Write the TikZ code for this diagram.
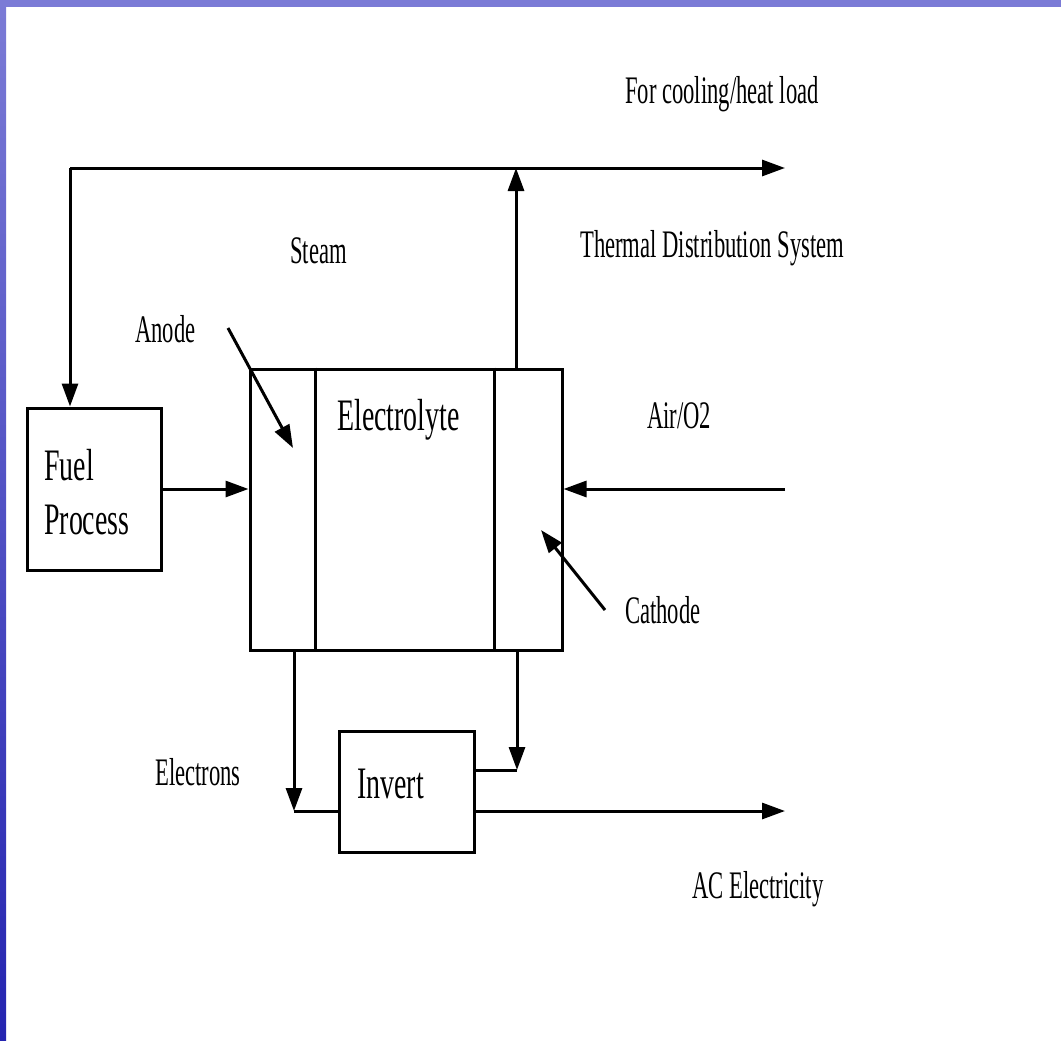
\documentclass[tikz,border=0pt]{standalone}
\usepackage{fontspec}
\newfontfamily\dfont[FakeStretch=0.62]{Liberation Serif}
\newfontfamily\lfont[FakeStretch=0.58]{Liberation Serif}
\usetikzlibrary{arrows.meta}
\definecolor{bordtop}{HTML}{7B7BD6}
\definecolor{bordbot}{HTML}{2424B0}
\tikzset{
  ln/.style={line width=3pt, draw=black},
  arr/.style={ln, -{Triangle[length=23pt,width=16pt]}},
  boxn/.style={ln, rectangle, inner sep=0pt},
  lbl/.style={anchor=base west, inner sep=0pt, font=\lfont\fontsize{39}{39}\selectfont},
  blbl/.style={anchor=base west, inner sep=0pt, font=\dfont\fontsize{45}{45}\selectfont},
}
\begin{document}
\begin{tikzpicture}[x=1pt,y=-1pt]
\useasboundingbox (0,0) rectangle (1061,1041);
\fill[white] (0,0) rectangle (1061,1041);
% blue slide border
\shade[top color=bordtop, bottom color=bordbot] (0,0) rectangle (6,1041);
\fill[bordtop] (0,0) rectangle (1061,7);

% boxes
\node[boxn, minimum width=134pt, minimum height=162pt] (fuel) at (94,489) {};
\node[boxn, minimum width=312pt, minimum height=281pt] (cell) at (406,509.5) {};
\node[boxn, minimum width=135pt, minimum height=121pt] (inv) at (406.5,791.5) {};
\draw[ln] ([xshift=67pt]cell.north west) -- ([xshift=67pt]cell.south west);
\draw[ln] ([xshift=246pt]cell.north west) -- ([xshift=246pt]cell.south west);

% texts
\node[lbl] (cool) at (625,103) {For cooling/heat load};
\node[lbl] (therm) at (580,257) {Thermal Distribution System};
\node[lbl] (steam) at (290,263) {Steam};
\node[lbl] (anode) at (135,342) {Anode};
\node[blbl] (elec) at (337,430) {Electrolyte};
\node[lbl] (air) at (647,428) {Air/O2};
\node[blbl] (fuelt) at (44,480) {Fuel};
\node[blbl] (proct) at (44,534) {Process};
\node[lbl] (cath) at (625,623) {Cathode};
\node[lbl] (elns) at (155,785) {Electrons};
\node[blbl] (invt) at (357,798) {Invert};
\node[lbl] (acel) at (692,898) {AC Electricity};

% coordinates
\coordinate (tl) at (70,168);
\coordinate (tr) at (785,168);
\coordinate (airin) at (785,489);
\coordinate (anodea) at (228,328);
\coordinate (anodeb) at (293,448);
\coordinate (catha) at (605,610);
\coordinate (cathb) at (541,530);
\coordinate (bl) at (294,811);
\coordinate (br) at (517,770);
\coordinate (outr) at (785,811);
\coordinate (up) at (516,369);

% connectors
\draw[arr] (tl) -- (tl |- fuel.north);
\draw[arr] (tl) -- (tr);
\draw[arr] (up) -- (up |- tl);
\draw[arr] (fuel.east) -- (fuel.east -| cell.west);
\draw[arr] (airin) -- (airin -| cell.east);
\draw[arr] (anodea) -- (anodeb);
\draw[arr] (catha) -- (cathb);
\draw[arr] (bl |- cell.south) -- (bl);
\draw[ln] (bl) -- (bl -| inv.west);
\draw[arr] (br |- cell.south) -- (br);
\draw[ln] (br) -- (br -| inv.east);
\draw[arr] (bl -| inv.east) -- (outr);
\end{tikzpicture}
\end{document}
